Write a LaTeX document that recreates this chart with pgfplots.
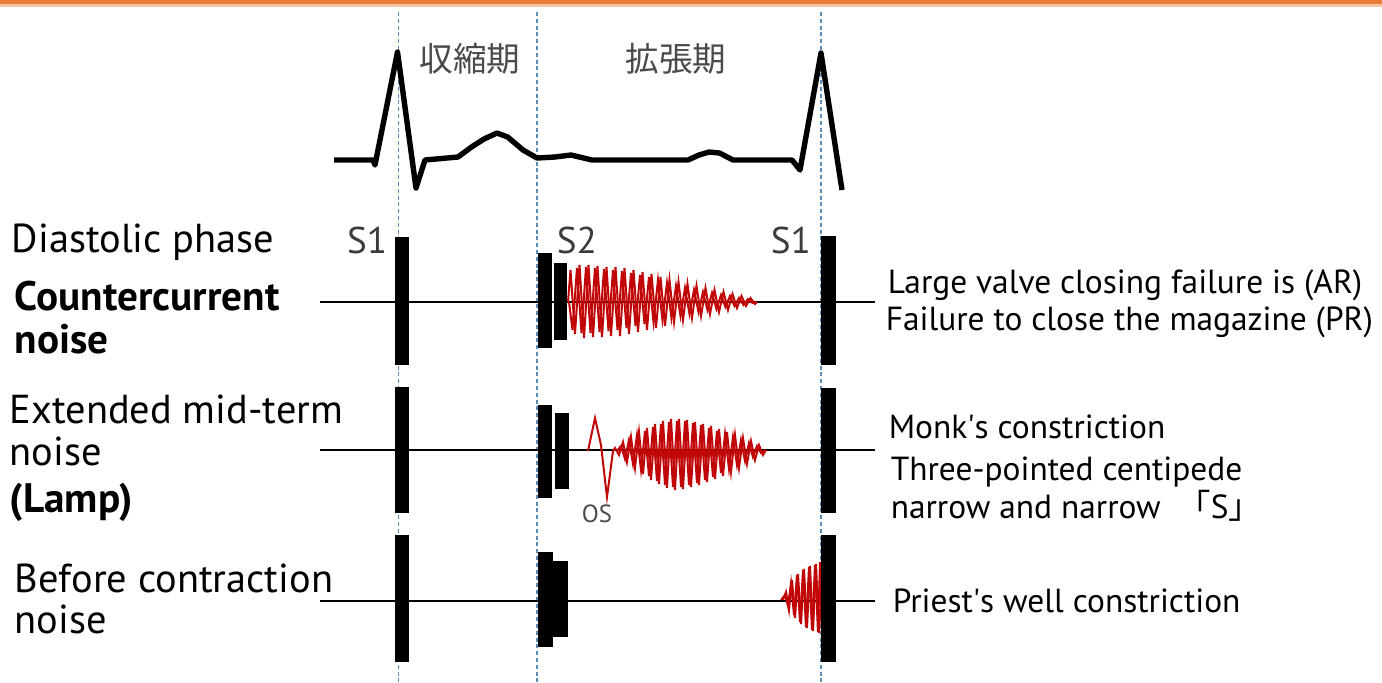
\documentclass[border=0pt]{standalone}
\usepackage{pgfplots}
\pgfplotsset{compat=1.18}
\usepackage{fontspec}
\setmainfont{PT Sans}
\newfontfamily\cjk{Noto Sans CJK JP}
\definecolor{murmur}{HTML}{C00606}
\definecolor{orangebar}{HTML}{E97D3A}
\definecolor{dashblue}{HTML}{5B8DB8}
\definecolor{txtgray}{HTML}{4A4A4A}
\begin{document}
\begin{tikzpicture}
\begin{axis}[
  scale only axis, width=345.5pt, height=170.5pt,
  xmin=0, xmax=1382, ymin=0, ymax=682, y dir=reverse,
  hide axis, clip=false,
]
% frame extents
\addplot[draw=none] coordinates {(0,0) (1382,682)};
% orange top rule
\addplot[fill=orangebar!45, draw=none] coordinates {(0,3) (1382,3) (1382,6.5) (0,6.5)} --cycle;
\addplot[fill=orangebar, draw=none] coordinates {(0,0) (1382,0) (1382,4) (0,4)} --cycle;
% dashed phase lines
\addplot[dashblue, line width=0.35pt, dash pattern=on 1pt off 0.7pt] coordinates {(398.5,12) (398.5,682)};
\addplot[dashblue, line width=0.35pt, dash pattern=on 1pt off 0.7pt] coordinates {(537,12) (537,682)};
\addplot[dashblue, line width=0.35pt, dash pattern=on 1pt off 0.7pt] coordinates {(821,12) (821,682)};
% ECG
\addplot[black, line width=1.35pt, line join=round] coordinates {
 (334,160) (373,160) (375,165) (397.5,52) (416,188) (425,160) (458,157)
 (471.5,147) (484,139) (497,133) (507.7,137) (523,150) (537,158) (555,157) (571,155)
 (592,160) (688,160) (699,155) (709,152) (719.5,153) (733,160) (792,160) (800,170)
 (821,53) (842,190)};
% row base lines
\addplot[black, line width=0.5pt] coordinates {(320,302) (875,302)};
\addplot[black, line width=0.5pt] coordinates {(320,450) (875,450)};
\addplot[black, line width=0.5pt] coordinates {(320,601) (875,601)};
% row 1 murmur (decrescendo)
\addplot[murmur, line width=0.5pt, line join=miter] coordinates {
 (568,302) (570.5,270) (575,334) (579.5,265) (584,338) (588.5,265) (593,337)
 (597.5,266) (602,337) (606.5,267) (611,336) (615.5,267) (620,336) (624.5,268)
 (629,334) (633.5,270) (638,332) (642.5,272) (647,330) (651.5,274) (656,328)
 (660.5,277) (665,326) (669.5,280) (674,322) (678.5,282) (683,320) (687.5,284)
 (692,318) (696.5,286) (701,316) (705.5,288) (710,314) (714.5,290) (719,312)
 (723.5,292) (728,310) (732.5,294) (737,308) (741.5,296) (746,306) (750.5,298)
 (755,304) (757,302)};
\addplot[murmur, line width=0.5pt, line join=miter] coordinates {
 (569,302) (572.5,330) (577,268) (581.5,333) (586,267) (590.5,333) (595,268)
 (599.5,332) (604,269) (608.5,331) (613,270) (617.5,330) (622,271) (626.5,328)
 (631,273) (635.5,326) (640,275) (644.5,324) (649,277) (653.5,322) (658,280)
 (662.5,320) (667,283) (671.5,318) (676,286) (680.5,316) (685,288) (689.5,314)
 (694,290) (698.5,312) (703,292) (707.5,310) (712,293) (716.5,309) (721,295)
 (725.5,307) (730,296) (734.5,306) (739,298) (743.5,305) (748,299) (752.5,303)
 (756,302)};
% row 2: opening snap + diamond murmur
\addplot[murmur, line width=0.5pt, line join=miter] coordinates {
 (588,451) (595,418) (601,445) (607,497) (613,451)
 (615,448) (619,455) (623,442) (627,462) (631,437) (635,468) (639,432) (643,474)
 (647,428) (651,480) (655,424) (659,484) (663,421) (667,488) (671,419) (675,490)
 (679,419) (683,489) (687,420) (691,487) (695,422) (699,485) (703,424) (707,482)
 (711,426) (715,479) (719,429) (723,476) (727,432) (731,472) (735,435) (739,468)
 (743,438) (747,464) (751,441) (755,460) (759,445) (763,455) (766,450)};
\addplot[murmur, line width=0.5pt, line join=miter] coordinates {
 (617,451) (621,446) (625,459) (629,440) (633,464) (637,435) (641,470) (645,431)
 (649,476) (653,427) (657,481) (661,424) (665,485) (669,422) (673,487) (677,421)
 (681,487) (685,421) (689,485) (693,423) (697,483) (701,425) (705,480) (709,428)
 (713,477) (717,431) (721,473) (725,434) (729,469) (733,437) (737,465) (741,440)
 (745,461) (749,443) (753,457) (757,446) (761,453) (765,450)};
% row 3: presystolic crescendo
\addplot[murmur, line width=0.5pt, line join=miter] coordinates {
 (781,600) (785,595) (788,606) (791,583) (794,615) (797,575) (800,622) (803,570)
 (806,627) (809,567) (812,630) (815,565) (818,632) (820,562) (821,600)};
\addplot[murmur, line width=0.5pt, line join=miter] coordinates {
 (783,600) (786,592) (789,610) (792,580) (795,618) (798,574) (801,624) (804,569)
 (807,628) (810,566) (813,631) (816,564) (819,633) (821,600)};
% S1 bars (left)
\addplot[fill=black, draw=none] coordinates {(395,237) (409,237) (409,365) (395,365)} --cycle;
\addplot[fill=black, draw=none] coordinates {(395,387) (409,387) (409,513) (395,513)} --cycle;
\addplot[fill=black, draw=none] coordinates {(395,535) (409,535) (409,662) (395,662)} --cycle;
% S2 bars
\addplot[fill=black, draw=none] coordinates {(538,253) (552,253) (552,348) (538,348)} --cycle;
\addplot[fill=black, draw=none] coordinates {(554,263) (567,263) (567,340) (554,340)} --cycle;
\addplot[fill=black, draw=none] coordinates {(538,405) (552,405) (552,498) (538,498)} --cycle;
\addplot[fill=black, draw=none] coordinates {(555,413) (569,413) (569,489) (555,489)} --cycle;
\addplot[fill=black, draw=none] coordinates {(538,552) (553,552) (553,647) (538,647)} --cycle;
\addplot[fill=black, draw=none] coordinates {(552,561) (568,561) (568,637) (552,637)} --cycle;
% S1 bars (right)
\addplot[fill=black, draw=none] coordinates {(821,236) (836,236) (836,365) (821,365)} --cycle;
\addplot[fill=black, draw=none] coordinates {(821,388) (836,388) (836,513) (821,513)} --cycle;
\addplot[fill=black, draw=none] coordinates {(821,535) (836,535) (836,662) (821,662)} --cycle;
% phase labels
\node[txtgray, font=\cjk\fontsize{8.4pt}{10pt}\selectfont, inner sep=0] at (axis cs:470,59) {収縮期};
\node[txtgray, font=\cjk\fontsize{8.4pt}{10pt}\selectfont, inner sep=0] at (axis cs:676,59) {拡張期};
% sound labels
\node[txtgray!80!black, font=\fontsize{9.3pt}{11pt}\selectfont, inner sep=0, anchor=base east] at (axis cs:388,253) {S1};
\node[txtgray!80!black, font=\fontsize{9.3pt}{11pt}\selectfont, inner sep=0, anchor=base west] at (axis cs:556,253) {S2};
\node[txtgray!80!black, font=\fontsize{9.3pt}{11pt}\selectfont, inner sep=0, anchor=base west] at (axis cs:770,253) {S1};
\node[txtgray, font=\fontsize{6.2pt}{7pt}\selectfont, inner sep=0, anchor=base] at (axis cs:597,522) {OS};
% left labels
\node[font=\fontsize{10.1pt}{12pt}\selectfont, inner sep=0, anchor=base west] at (axis cs:11,252) {Diastolic phase};
\node[font=\fontsize{10.3pt}{12pt}\selectfont\bfseries, inner sep=0, anchor=base west] at (axis cs:14,310) {Countercurrent};
\node[font=\fontsize{10.3pt}{12pt}\selectfont\bfseries, inner sep=0, anchor=base west] at (axis cs:14,353) {noise};
\node[font=\fontsize{10.1pt}{12pt}\selectfont, inner sep=0, anchor=base west] at (axis cs:9,423) {Extended mid-term};
\node[font=\fontsize{10.1pt}{12pt}\selectfont, inner sep=0, anchor=base west] at (axis cs:9,465) {noise};
\node[font=\fontsize{10.3pt}{12pt}\selectfont\bfseries, inner sep=0, anchor=base west] at (axis cs:9,512) {(Lamp)};
\node[font=\fontsize{10.1pt}{12pt}\selectfont, inner sep=0, anchor=base west] at (axis cs:14,592) {Before contraction};
\node[font=\fontsize{10.1pt}{12pt}\selectfont, inner sep=0, anchor=base west] at (axis cs:14,633) {noise};
% right labels
\node[font=\fontsize{8.35pt}{10pt}\selectfont, inner sep=0, anchor=base west] at (axis cs:887,293) {Large valve closing failure is (AR)};
\node[font=\fontsize{8.35pt}{10pt}\selectfont, inner sep=0, anchor=base west] at (axis cs:885,330) {Failure to close the magazine (PR)};
\node[font=\fontsize{8.35pt}{10pt}\selectfont, inner sep=0, anchor=base west] at (axis cs:888,438) {Monk\textquotesingle s constriction};
\node[font=\fontsize{8.35pt}{10pt}\selectfont, inner sep=0, anchor=base west] at (axis cs:890,480) {Three-pointed centipede};
\node[font=\fontsize{8.35pt}{10pt}\selectfont, inner sep=0, anchor=base west] at (axis cs:890,518) {narrow and narrow\enspace{\cjk 「}S{\cjk 」}};
\node[font=\fontsize{8.35pt}{10pt}\selectfont, inner sep=0, anchor=base west] at (axis cs:892,612) {Priest\textquotesingle s well constriction};
\end{axis}
\end{tikzpicture}
\end{document}
